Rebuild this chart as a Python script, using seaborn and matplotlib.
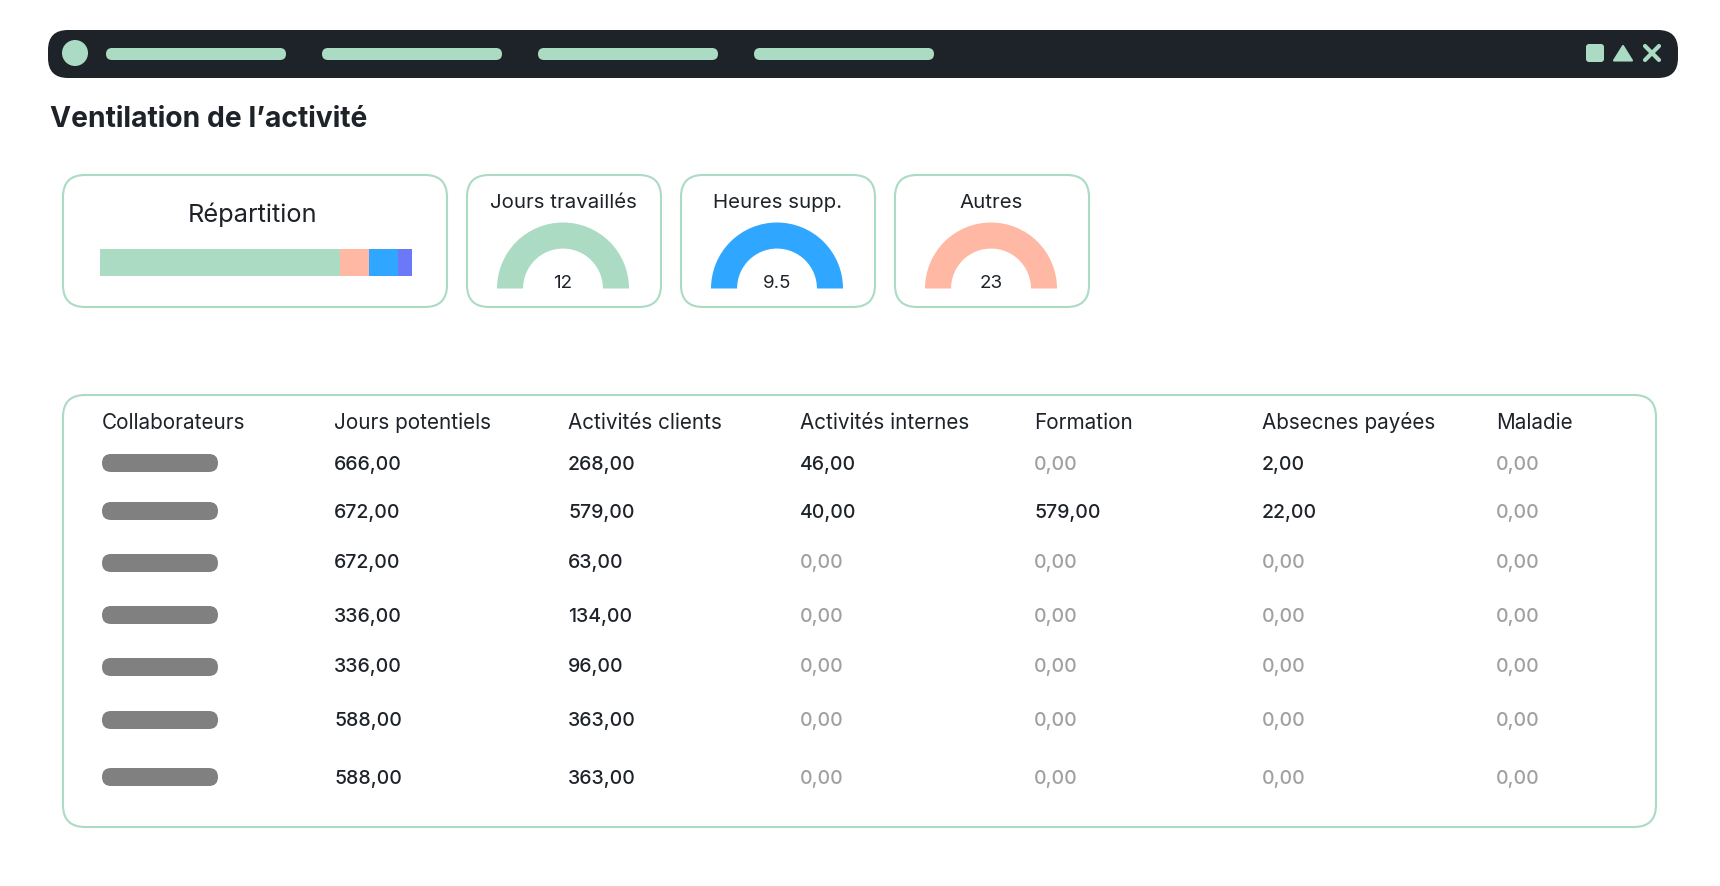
"""
Ventilation de l'activité: dashboard mockup with a stacked share bar, three
half-circle gauges and a table of hours by collaborator.
"""
import matplotlib.pyplot as plt
from matplotlib.patches import Circle, FancyBboxPatch, Polygon
import pandas as pd
import seaborn as sns

### Data
share_labels = ["Jours travaillés", "Autres", "Heures supp.", "Divers"]
share_values = [76.9, 9.3, 9.3, 4.5]

gauge_labels = ["Jours travaillés", "Heures supp.", "Autres"]
gauge_values = ["12", "9.5", "23"]

table_headers = ["Collaborateurs", "Jours potentiels", "Activités clients", "Activités internes",
                 "Formation", "Absecnes payées", "Maladie"]
jours_potentiels = [666, 672, 672, 336, 336, 588, 588]
activites_clients = [268, 579, 63, 134, 96, 363, 363]
activites_internes = [46, 40, 0, 0, 0, 0, 0]
formation = [0, 579, 0, 0, 0, 0, 0]
absences_payees = [2, 22, 0, 0, 0, 0, 0]
maladie = [0, 0, 0, 0, 0, 0, 0]

### Style
GREEN = "#abdbc3"
SALMON = "#ffb8a3"
BLUE = "#2fa6ff"
PURPLE = "#6b78f7"
DARK = "#1e2329"
GREY_TEXT = "#a0a0a0"
PILL_GREY = "#808080"

sns.set_theme(style="white")
plt.rcParams["font.family"] = ["Inter", "DejaVu Sans"]

W, H = 1720, 886
fig = plt.figure(figsize=(W / 100, H / 100), dpi=100, facecolor="white")

# background axes works in pixels, y going down
bg = fig.add_axes([0, 0, 1, 1])
bg.set_xlim(0, W)
bg.set_ylim(H, 0)
bg.axis("off")


def px_axes(x0, y0, x1, y1):
    ax = fig.add_axes([x0 / W, 1 - y1 / H, (x1 - x0) / W, (y1 - y0) / H])
    ax.patch.set_alpha(0)
    return ax


def round_box(x0, y0, x1, y1, radius, **kwargs):
    box = FancyBboxPatch((x0, y0), x1 - x0, y1 - y0,
                         boxstyle=f"round,pad=0,rounding_size={radius}", **kwargs)
    bg.add_patch(box)


### Top bar
round_box(48, 30, 1678, 78, 20, fc=DARK, ec="none")
bg.add_patch(Circle((75, 53), 13, fc=GREEN, ec="none"))
for x0 in [106, 322, 538, 754]:
    round_box(x0, 48, x0 + 180, 60, 6, fc=GREEN, ec="none")
round_box(1586, 44, 1604, 62, 3, fc=GREEN, ec="none")
bg.add_patch(Polygon([(1623, 46), (1632, 60.5), (1614, 60.5)], closed=True, fc=GREEN, ec=GREEN, lw=1.5, joinstyle="round"))
bg.plot([1645, 1659], [46, 60], color=GREEN, lw=3, solid_capstyle="round")
bg.plot([1645, 1659], [60, 46], color=GREEN, lw=3, solid_capstyle="round")

bg.text(50, 126.5, "Ventilation de l’activité", fontsize=20.35, fontweight="bold", color=DARK,
        ha="left", va="baseline")

### Répartition card
round_box(63, 175, 447, 307, 22, fc="white", ec=GREEN, lw=1.5)
bg.text(253, 222, "Répartition", fontsize=18.3, color=DARK, ha="center", va="baseline")

# stacked bar: cumulated shares drawn back to front
share_df = pd.DataFrame({"segment": share_labels, "share": share_values})
share_df["cum"] = share_df["share"].cumsum()
share_df["row"] = "r"
ax = px_axes(99.5, 249, 412, 276)
sns.barplot(data=share_df, x="cum", y="row", hue="segment",
            hue_order=share_labels[::-1],
            palette=dict(zip(share_labels, [GREEN, SALMON, BLUE, PURPLE])),
            dodge=False, width=1, saturation=1, legend=False, linewidth=0, ax=ax)
ax.set_xlim(0, 100)
ax.set_ylim(0.5, -0.5)
ax.axis("off")

### Gauge cards
gauge_colors = [GREEN, BLUE, SALMON]
card_lefts = [467, 681, 895]
for label, value, color, x0 in zip(gauge_labels, gauge_values, gauge_colors, card_lefts):
    round_box(x0, 175, x0 + 194, 307, 22, fc="white", ec=GREEN, lw=1.5)
    cx = x0 + 96
    bg.text(cx + 0.5, 208, label, fontsize=14.7, color=DARK, ha="center", va="baseline")
    ax = px_axes(cx - 66, 222.5, cx + 66, 354.5)
    ax.pie([1, 1], colors=[color, "none"], startangle=0, radius=1,
           wedgeprops={"width": 0.395, "linewidth": 0})
    ax.set_xlim(-1, 1)
    ax.set_ylim(-1, 1)
    ax.text(0, 0.0, value, fontsize=13.5, color=DARK, ha="center", va="baseline")

### Table
round_box(63, 395, 1656, 827, 22, fc="white", ec=GREEN, lw=1.5)
col_x = [102, 334, 568, 800, 1034, 1262, 1496]
header_y = 428.5
row_y = [470, 518, 568.5, 622, 672.5, 726, 784]
pill_y = [463, 511, 563, 615, 667, 720, 777]

for x, header in zip(col_x, table_headers):
    bg.text(x, header_y, header, fontsize=14.9, color=DARK, ha="left", va="baseline")

for y in pill_y:
    round_box(102, y - 9, 218, y + 9, 9, fc=PILL_GREY, ec="none")

value_columns = [jours_potentiels, activites_clients, activites_internes,
                 formation, absences_payees, maladie]
for x, col in zip(col_x[1:], value_columns):
    for y, value in zip(row_y, col):
        bg.text(x, y, f"{value},00", fontsize=14, fontweight=500,
                color=DARK if value else GREY_TEXT, ha="left", va="baseline")

fig.savefig("out.png", dpi=100)
